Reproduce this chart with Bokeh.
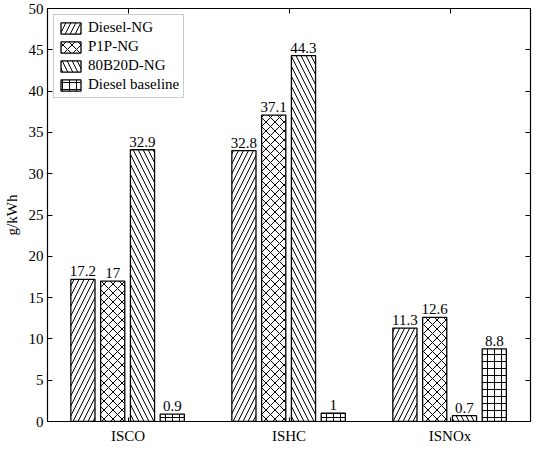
from bokeh.plotting import figure
from bokeh.models import (FactorRange, Range1d, LinearAxis, CategoricalAxis, ColumnDataSource,
                          FixedTicker, Legend, LegendItem)
from bokeh.transform import dodge
from bokeh.core.properties import value
from bokeh.embed import file_html
from bokeh.resources import INLINE

categories = ["ISCO", "ISHC", "ISNOx"]
series_names = ["Diesel-NG", "P1P-NG", "80B20D-NG", "Diesel baseline"]
diesel_ng = [17.2, 32.8, 11.3]
p1p_ng = [17, 37.1, 12.6]
b80d20_ng = [32.9, 44.3, 0.7]
diesel_baseline = [0.9, 1, 8.8]
y_ticks = [0, 5, 10, 15, 20, 25, 30, 35, 40, 45, 50]

series_values = [diesel_ng, p1p_ng, b80d20_ng, diesel_baseline]
offsets = [-0.28, -0.095, 0.09, 0.275]
hatches = ["/", "x", "\\", "+"]
hatch_scales = [10, 9, 10, 7]

FONT = "Liberation Serif"

p = figure(width=534, height=446, x_range=FactorRange(factors=categories, range_padding=0),
           y_range=Range1d(0, 50), output_backend="svg", toolbar_location=None,
           min_border_left=0, min_border_right=4, min_border_top=8, min_border_bottom=0)
p.xgrid.visible = False
p.ygrid.visible = False
p.outline_line_color = "black"
p.outline_line_width = 1.2

items = []
for name, vals, off, h, hs in zip(series_names, series_values, offsets, hatches, hatch_scales):
    src = ColumnDataSource(dict(x=categories, top=vals, label=[f"{v:g}" for v in vals]))
    r = p.vbar(x=dodge("x", off, range=p.x_range), top="top", width=0.15, source=src,
               fill_color="white", line_color="black", line_width=1.3,
               hatch_pattern=h, hatch_color="black", hatch_scale=hs, hatch_weight=1.0)
    p.text(x=dodge("x", off, range=p.x_range), y="top", text="label", source=src,
           text_align="center", text_baseline="bottom", y_offset=-3,
           text_font=value(FONT), text_font_size="15px", text_color="black")
    items.append(LegendItem(label=name, renderers=[r]))

legend = Legend(items=items, location="top_left", label_text_font=FONT,
                label_text_font_size="15px", label_text_color="black",
                glyph_width=25, glyph_height=14, spacing=2, padding=4, margin=6,
                label_standoff=5, border_line_color="#999999", label_height=14)
p.add_layout(legend)

# bottom axis
xa = p.xaxis[0]
xa.major_label_text_font = FONT
xa.major_label_text_font_size = "15px"
xa.major_label_text_color = "black"
xa.major_tick_in = 4
xa.major_tick_out = 0
xa.axis_line_color = "black"
xa.major_tick_line_color = "black"
xa.major_label_standoff = 6

# left axis
ya = p.yaxis[0]
ya.ticker = FixedTicker(ticks=y_ticks)
ya.major_label_text_font = FONT
ya.major_label_text_font_size = "15px"
ya.major_label_text_color = "black"
ya.major_tick_in = 5
ya.major_tick_out = 0
ya.minor_tick_in = 0
ya.minor_tick_out = 0
ya.axis_label = "g/kWh"
ya.axis_label_text_font = FONT
ya.axis_label_text_font_style = "normal"
ya.axis_label_text_font_size = "15px"
ya.axis_label_text_color = "black"
ya.axis_label_standoff = 6
ya.major_label_standoff = 4

# right axis (ticks only)
ra = LinearAxis(ticker=FixedTicker(ticks=y_ticks), major_tick_in=5, major_tick_out=0,
                minor_tick_in=0, minor_tick_out=0, major_label_standoff=0,
                major_label_overrides={t: "" for t in y_ticks})
p.add_layout(ra, "right")

# top axis (ticks only, at category centres)
ta = CategoricalAxis(major_tick_in=5, major_tick_out=0, major_label_standoff=0,
                     major_label_text_color=None, major_label_text_font_size="1px")
p.add_layout(ta, "above")

open("out.html", "w").write(file_html(p, INLINE))
